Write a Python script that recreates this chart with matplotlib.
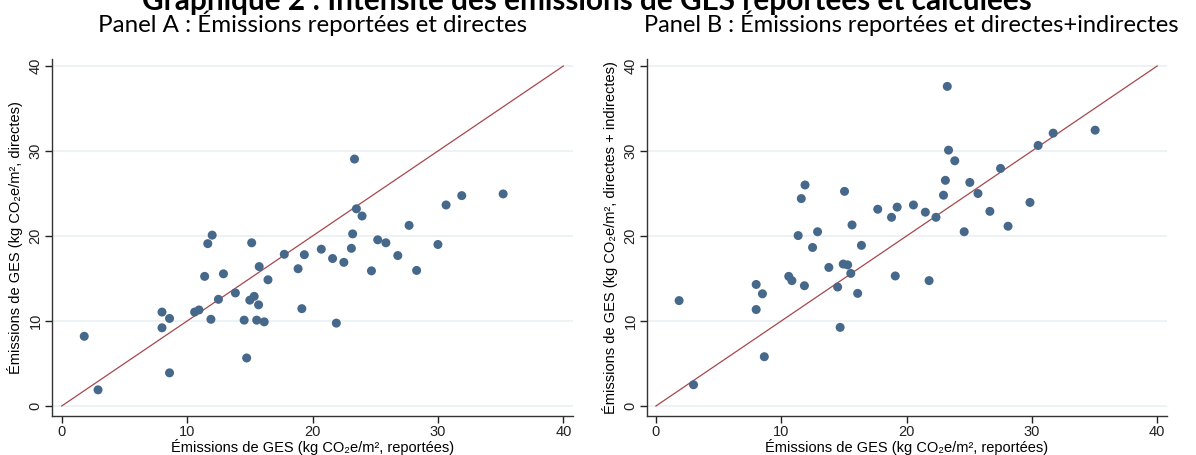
import matplotlib.pyplot as plt

# =====================
# Données
# =====================
# Panel A : reportées vs directes
a_reportees = [1.8, 2.9, 8.0, 8.0, 8.6, 8.6, 10.6, 10.95, 11.4, 11.65, 12.0, 11.9,
               12.5, 12.9, 13.85, 14.55, 14.75, 15.0, 15.35, 15.15, 15.7, 15.75,
               15.55, 16.15, 16.45, 17.75, 18.85, 19.15, 19.35, 20.7, 21.6, 21.9,
               22.5, 23.1, 23.2, 23.35, 23.5, 23.95, 24.7, 25.2, 25.85, 26.8, 27.7,
               28.3, 30.0, 30.65, 31.9, 35.2]
a_directes = [8.2, 1.9, 11.05, 9.2, 10.3, 3.9, 11.05, 11.3, 15.25, 19.1, 20.1, 10.2,
              12.55, 15.55, 13.3, 10.1, 5.65, 12.45, 12.9, 19.2, 11.9, 16.4,
              10.1, 9.9, 14.85, 17.85, 16.15, 11.45, 17.8, 18.45, 17.35, 9.75,
              16.9, 18.55, 20.25, 29.05, 23.2, 22.35, 15.9, 19.55, 19.2, 17.7, 21.25,
              15.95, 19.0, 23.65, 24.75, 24.95]

# Panel B : reportées vs directes + indirectes
b_reportees = [1.85, 3.0, 8.0, 8.0, 8.5, 8.65, 10.6, 10.85, 11.35, 11.6, 11.9, 11.85,
               12.5, 12.9, 13.8, 14.5, 14.7, 14.95, 15.05, 15.3, 15.55, 15.65, 16.1,
               16.4, 17.7, 18.8, 19.1, 19.25, 20.55, 21.5, 21.8, 22.35, 22.95, 23.1,
               23.25, 23.35, 23.85, 24.6, 25.05, 25.7, 26.65, 27.5, 28.1, 29.85,
               30.5, 31.7, 35.05]
b_totales = [12.4, 2.5, 14.3, 11.35, 13.2, 5.8, 15.25, 14.75, 20.05, 24.4, 26.0, 14.15,
             18.65, 20.5, 16.3, 14.0, 9.25, 16.7, 25.25, 16.6, 15.6, 21.3, 13.25,
             18.9, 23.15, 22.2, 15.3, 23.4, 23.65, 22.8, 14.75, 22.2, 24.8, 26.55,
             37.6, 30.1, 28.85, 20.5, 26.3, 25.0, 22.9, 27.95, 21.15, 23.95,
             30.65, 32.1, 32.45]

diag = [0, 40]
ticks = [0, 10, 20, 30, 40]

plt.rcParams['font.family'] = ['Liberation Sans', 'DejaVu Sans']
titre_font = ['Lato', 'DejaVu Sans']

fig = plt.figure(figsize=(11.96, 4.55), dpi=100)

fig.text(0.491, 0.978, "Graphique 2 : Intensité des émissions de GES reportées et calculées",
         ha="center", va="baseline", fontsize=21.4, fontweight="bold", family=titre_font)
fig.text(0.261, 0.93, "Panel A : Émissions reportées et directes",
         ha="center", va="baseline", fontsize=17.4, family=titre_font)
fig.text(0.762, 0.93, "Panel B : Émissions reportées et directes+indirectes",
         ha="center", va="baseline", fontsize=17, family=titre_font)

panels = [
    ([0.0437, 0.0864, 0.4354, 0.7835], a_reportees, a_directes, (-0.75, 40.77),
     "Émissions de GES (kg CO₂e/m², directes)"),
    ([0.5412, 0.0864, 0.4343, 0.7835], b_reportees, b_totales, (-0.69, 40.76),
     "Émissions de GES (kg CO₂e/m², directes + indirectes)"),
]

for pos, x, y, xlim, ylab in panels:
    ax = fig.add_axes(pos)
    ax.set_xlim(xlim)
    ax.set_ylim(-1.14, 40.8)
    for t in ticks:
        ax.axhline(t, color="#eaf1f3", lw=1.2, zorder=0)
    ax.plot(diag, diag, color="#a8474b", lw=0.9, zorder=2)
    ax.scatter(x, y, s=42, color="#45688b", edgecolors="none", zorder=3)
    ax.set_xticks(ticks)
    ax.set_yticks(ticks)
    ax.tick_params(direction="out", length=5, width=1, labelsize=10.5, pad=2, colors="#222222")
    for lab in ax.get_yticklabels():
        lab.set_rotation(90)
        lab.set_va("center")
    for s in ["top", "right"]:
        ax.spines[s].set_visible(False)
    for s in ["left", "bottom"]:
        ax.spines[s].set_color("#333333")
        ax.spines[s].set_linewidth(1)
    ax.set_xlabel("Émissions de GES (kg CO₂e/m², reportées)", fontsize=10.5, labelpad=0)
    ax.set_ylabel(ylab, fontsize=10.5, labelpad=4)

plt.savefig("out.png", dpi=100)
